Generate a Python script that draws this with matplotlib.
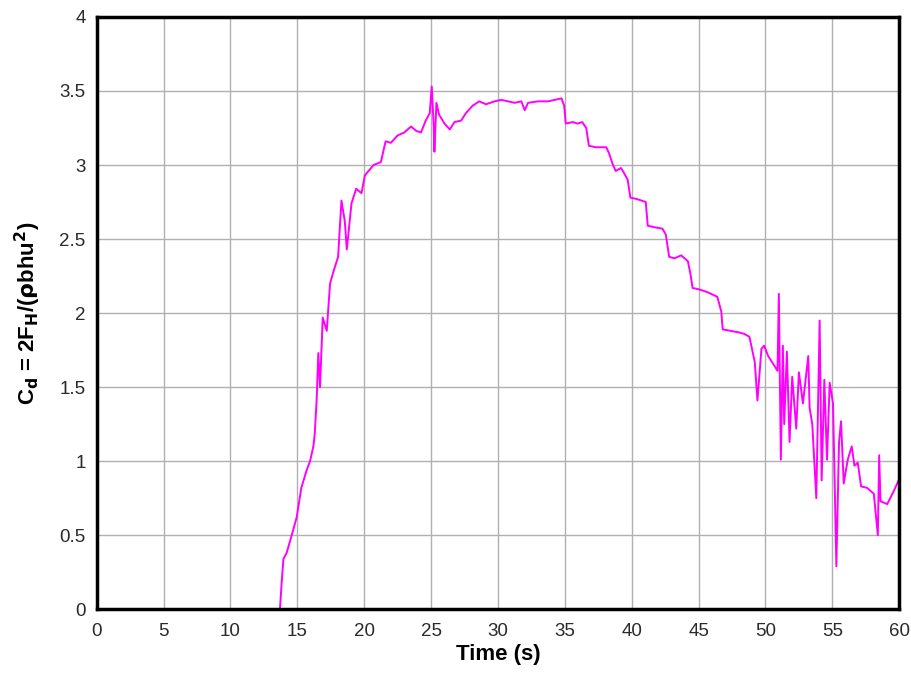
import matplotlib.pyplot as plt

plt.rcParams['font.family'] = ['Liberation Sans', 'DejaVu Sans']

# drag coefficient trace
time_s = [13.7, 13.83, 13.96, 14.2, 14.58, 14.95, 15.3, 15.7, 15.95, 16.2, 16.3, 16.45,
          16.57, 16.7, 16.9, 17.2, 17.45, 17.7, 18.05, 18.3, 18.55, 18.7, 19.05, 19.4,
          19.8, 20.05, 20.7, 21.25, 21.6, 22.0, 22.5, 23.0, 23.5, 23.9, 24.25, 24.6,
          24.9, 25.05, 25.2, 25.25, 25.4, 25.6, 26.0, 26.4, 26.75, 27.25, 27.6, 28.1,
          28.6, 29.1, 29.75, 30.25, 30.75, 31.25, 31.75, 32.0, 32.25, 33.0, 33.75, 34.25,
          34.75, 34.95, 35.07, 35.6, 35.95, 36.3, 36.6, 36.8, 37.3, 38.1, 38.3, 38.6,
          38.8, 39.2, 39.4, 39.7, 39.9, 40.4, 41.05, 41.2, 41.7, 42.3, 42.55, 42.8,
          43.2, 43.7, 44.2, 44.4, 44.55, 45.05, 45.7, 46.4, 46.7, 46.8, 47.4, 48.0,
          48.4, 48.8, 49.2, 49.4, 49.7, 49.9, 50.2, 50.7,
          50.9, 51.0, 51.15, 51.3, 51.4, 51.6, 51.8, 52.0, 52.3, 52.5, 52.8, 53.2,
          53.3, 53.5, 53.8, 54.05, 54.2, 54.4, 54.6, 54.8, 55.05, 55.3, 55.5, 55.65,
          55.85, 56.15, 56.45, 56.65, 56.9, 57.15, 57.6, 58.1, 58.4, 58.5, 58.6, 59.1,
          59.6, 60.0]
cd = [0.0, 0.18, 0.34, 0.38, 0.5, 0.62, 0.82, 0.94, 1.0, 1.1, 1.18, 1.42,
      1.73, 1.5, 1.97, 1.88, 2.2, 2.28, 2.38, 2.76, 2.62, 2.43, 2.74, 2.84,
      2.81, 2.93, 3.0, 3.02, 3.16, 3.15, 3.2, 3.22, 3.26, 3.23, 3.22, 3.3,
      3.35, 3.53, 3.26, 3.09, 3.42, 3.34, 3.28, 3.24, 3.29, 3.3, 3.35, 3.4,
      3.43, 3.41, 3.43, 3.44, 3.43, 3.42, 3.43, 3.37, 3.42, 3.43, 3.43, 3.44,
      3.45, 3.4, 3.28, 3.29, 3.28, 3.29, 3.25, 3.13, 3.12, 3.12, 3.08, 3.0,
      2.96, 2.98, 2.95, 2.9, 2.78, 2.77, 2.75, 2.59, 2.58, 2.57, 2.53, 2.38,
      2.37, 2.39, 2.35, 2.26, 2.17, 2.16, 2.14, 2.11, 2.01, 1.89, 1.88, 1.87,
      1.86, 1.84, 1.67, 1.41, 1.76, 1.78, 1.71, 1.64,
      1.61, 2.13, 1.01, 1.78, 1.25, 1.74, 1.13, 1.57, 1.22, 1.6, 1.39, 1.71,
      1.36, 1.25, 0.75, 1.95, 0.87, 1.55, 1.01, 1.53, 1.39, 0.29, 1.13, 1.27,
      0.85, 1.01, 1.1, 0.97, 0.99, 0.83, 0.82, 0.78, 0.5, 1.04, 0.73, 0.71,
      0.8, 0.88]

fig = plt.figure(figsize=(9.12, 6.77), dpi=100)
ax = fig.add_axes([0.106, 0.1, 0.88, 0.875])

ax.plot(time_s, cd, color='#ff00ff', linewidth=1.4)

ax.set_xlim(0, 60)
ax.set_ylim(0, 4)
ax.set_xticks(range(0, 61, 5))
ax.set_yticks([0, 0.5, 1, 1.5, 2, 2.5, 3, 3.5, 4])
ax.set_yticklabels(['0', '0.5', '1', '1.5', '2', '2.5', '3', '3.5', '4'])
ax.grid(True, color='#b0b0b0', linewidth=1.0)
ax.tick_params(length=0, labelsize=13.5, colors='#2a2a2a')
ax.tick_params(axis='x', pad=10)
ax.tick_params(axis='y', pad=8)
for s in ax.spines.values():
    s.set_linewidth(2.5)
    s.set_color('black')

ax.set_xlabel('Time (s)', fontsize=16, fontweight='bold', labelpad=3)
ax.set_ylabel(r'C$_\mathbf{d}$ = 2F$_\mathbf{H}$/($\mathbf{\rho}$bhu$^\mathbf{2}$)',
              fontsize=16, fontweight='bold', labelpad=12)

fig.savefig('out.png', dpi=100)
